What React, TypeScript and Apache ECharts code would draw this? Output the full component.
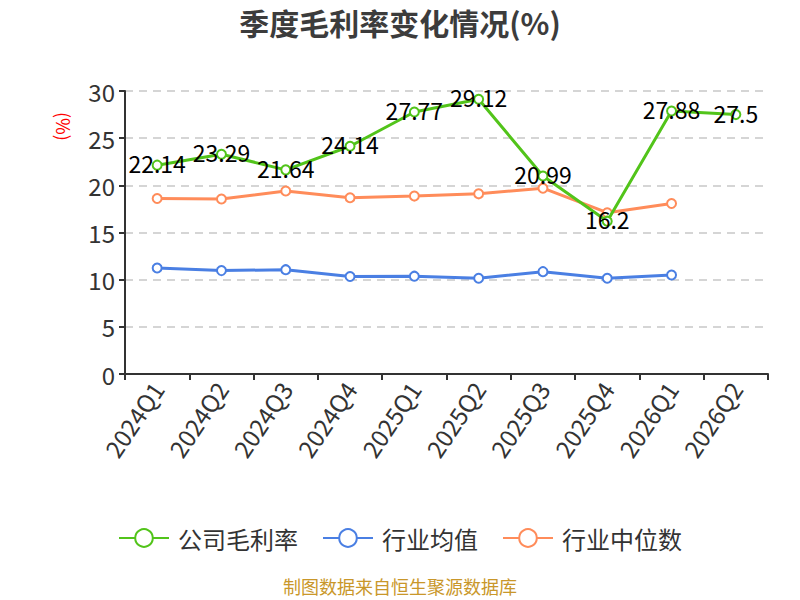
import React, { useEffect, useRef } from "react";
import * as echarts from "echarts";

const categories = ["2024Q1", "2024Q2", "2024Q3", "2024Q4", "2025Q1", "2025Q2", "2025Q3", "2025Q4", "2026Q1", "2026Q2"];
const companyMargin = [22.14, 23.29, 21.64, 24.14, 27.77, 29.12, 20.99, 16.2, 27.88, 27.5];
const industryAvg = [11.24, 10.96, 11.06, 10.33, 10.37, 10.15, 10.85, 10.15, 10.5, null];
const industryMedian = [18.6, 18.55, 19.4, 18.68, 18.86, 19.1, 19.7, 17.1, 18.08, null];
const seriesNames = ["公司毛利率", "行业均值", "行业中位数"];
const colors = ["#52c41a", "#4a7fe3", "#ff8c5a"];

const FONT = "Noto Sans CJK SC";

export default function App() {
  const ref = useRef<HTMLDivElement>(null);
  useEffect(() => {
    document.body.style.margin = "0";
    if (!ref.current) return;
    const chart = echarts.init(ref.current, undefined, { renderer: "svg" });
    const mk = (name: string, data: any[], color: string, label: boolean) => ({
      name,
      type: "line",
      data,
      symbol: "emptyCircle",
      symbolSize: 9,
      showSymbol: true,
      lineStyle: { width: 3, color },
      itemStyle: { color, borderWidth: 2 },
      label: label
        ? {
            show: true,
            position: "inside",
            offset: [0, -2],
            color: "#000",
            fontSize: 23,
            fontFamily: FONT,
          }
        : { show: false },
      z: label ? 3 : 2,
    });
    chart.setOption({
      animation: false,
      textStyle: { fontFamily: FONT },
      title: {
        text: "季度毛利率变化情况(%)",
        left: "center",
        top: 2,
        textStyle: { fontSize: 30, fontWeight: "bold", color: "#3c3c3c", fontFamily: FONT },
      },
      color: colors,
      legend: {
        data: seriesNames,
        top: 521,
        left: "center",
        itemWidth: 50,
        itemHeight: 22,
        itemGap: 24,
        textStyle: { fontSize: 24, color: "#333", fontFamily: FONT, padding: [0, 0, 0, 4] },
      },
      grid: { left: 125, right: 32, top: 91, bottom: 226 },
      xAxis: {
        type: "category",
        data: categories,
        boundaryGap: true,
        axisLine: { lineStyle: { color: "#333", width: 2 } },
        axisTick: { show: true, length: 6, lineStyle: { color: "#333", width: 2 } },
        axisLabel: { rotate: 56, fontSize: 24, color: "#333", margin: 10, fontFamily: FONT },
      },
      yAxis: {
        type: "value",
        min: 0,
        max: 30,
        interval: 5,
        axisLine: { show: true, lineStyle: { color: "#333", width: 2 } },
        axisTick: { show: true, length: 6, lineStyle: { color: "#333", width: 2 } },
        axisLabel: { fontSize: 24, color: "#333", margin: 10, fontFamily: FONT },
        splitLine: { show: true, lineStyle: { type: [8, 6], color: "#c8c8c8", width: 1.5 } },
      },
      graphic: [
        {
          type: "text",
          x: 73,
          y: 112,
          rotation: -Math.PI / 2,
          style: { text: "(%)", fill: "#ff0000", fontSize: 18, fontFamily: FONT },
        },
        {
          type: "text",
          left: "center",
          top: 577,
          style: { text: "制图数据来自恒生聚源数据库", fill: "#c9972a", fontSize: 18, fontFamily: FONT },
        },
      ],
      series: [
        mk(seriesNames[0], companyMargin, colors[0], true),
        mk(seriesNames[1], industryAvg, colors[1], false),
        mk(seriesNames[2], industryMedian, colors[2], false),
      ],
    });
    return () => chart.dispose();
  }, []);
  return <div ref={ref} style={{ width: 800, height: 600 }} />;
}
